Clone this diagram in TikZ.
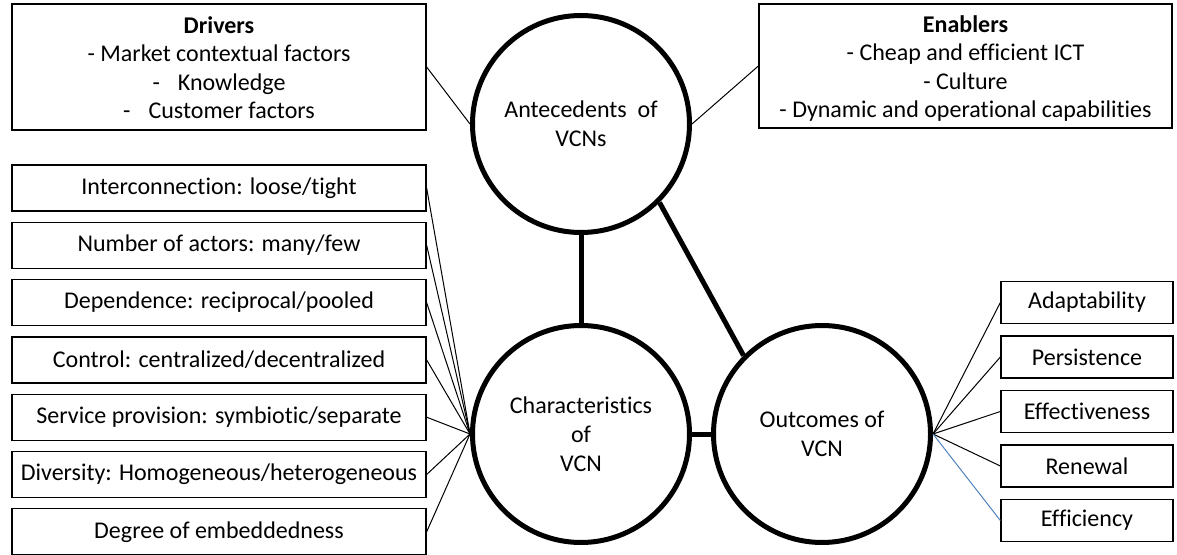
\documentclass[tikz,border=0pt]{standalone}
\usepackage{fontspec}
\setmainfont{Carlito}[Ligatures=NoCommon]
\usepackage{xcolor}
\definecolor{linkblue}{RGB}{79,129,189}
\usetikzlibrary{positioning}

\begin{document}
\begin{tikzpicture}[x=0.5pt, y=-0.5pt,
    vcn/.style={circle, draw=black, line width=2.5pt,
                minimum size=108.5pt, inner sep=0pt,
                align=center, font=\fontsize{12}{14.5}\selectfont},
    factbox/.style={rectangle, draw=black, line width=0.65pt,
                 minimum width=207pt, minimum height=63pt, inner sep=0pt,
                 align=center, font=\fontsize{12}{14.2}\selectfont},
    charbox/.style={rectangle, draw=black, line width=0.65pt,
                 minimum width=207pt, minimum height=23pt, inner sep=0pt,
                 font=\fontsize{12}{14.5}\selectfont},
    outbox/.style={rectangle, draw=black, line width=0.65pt,
                 minimum width=86pt, minimum height=21pt, inner sep=0pt,
                 font=\fontsize{12}{14.5}\selectfont},
    link/.style={line width=0.5pt, black},
    bond/.style={line width=2.5pt, black}
  ]
    \useasboundingbox (0,0) rectangle (1177,555);

    % the three circles
    \node[vcn] (ant) at (581,124) {Antecedents~~of\\VCNs};
    \node[vcn] (chr) at (581,434) {Characteristics\\of\\VCN};
    \node[vcn] (out) at (822,434) {Outcomes of\\VCN};

    % drivers and enablers
    \node[factbox] (drv) at (219,67) {\rule{0pt}{11pt}\textbf{Drivers}\\- Market contextual factors\\-\hspace{9pt}Knowledge\\-\hspace{9pt}Customer factors\rule[-2pt]{0pt}{2pt}};
    \node[factbox, minimum width=206.5pt, minimum height=62pt] (enb) at (965.5,66) {\rule{0pt}{11pt}\textbf{Enablers}\\- Cheap and efficient ICT\\- Culture\\- Dynamic and operational capabilities\rule[-2pt]{0pt}{2pt}};

    % characteristics
    \node[charbox] (c1) at (219,188) {Interconnection: loose/tight};
    \node[charbox, below=5pt of c1] (c2) {Number of actors: many/few};
    \node[charbox, below=5pt of c2] (c3) {Dependence: reciprocal/pooled};
    \node[charbox, below=5pt of c3] (c4) {Control: centralized/decentralized};
    \node[charbox, below=5pt of c4] (c5) {Service provision: symbiotic/separate};
    \node[charbox, below=5pt of c5] (c6) {Diversity: Homogeneous/heterogeneous};
    \node[charbox, below=5pt of c6] (c7) {Degree of embeddedness};

    % outcomes
    \node[outbox] (o1) at (1087,302.5) {Adaptability};
    \node[outbox, below=5.6pt of o1] (o2) {Persistence};
    \node[outbox, below=5.6pt of o2] (o3) {Effectiveness};
    \node[outbox, below=5.6pt of o3] (o4) {Renewal};
    \node[outbox, below=5.6pt of o4] (o5) {Efficiency};

    \draw[link] (drv.east) -- (ant.west);
    \draw[link] (enb.west) -- (ant.east);
    \draw[bond] (ant) -- (chr);
    \draw[bond] (ant.-45) -- (out.135);
    \draw[bond] (chr) -- (out);
    \foreach \i in {1,...,7}
      \draw[link] (c\i.east) -- (chr.west);
    \foreach \i in {1,...,4}
      \draw[link] (o\i.west) -- (out.east);
    \draw[link, linkblue] (o5.west) -- (out.east);
  \end{tikzpicture}
\end{document}
